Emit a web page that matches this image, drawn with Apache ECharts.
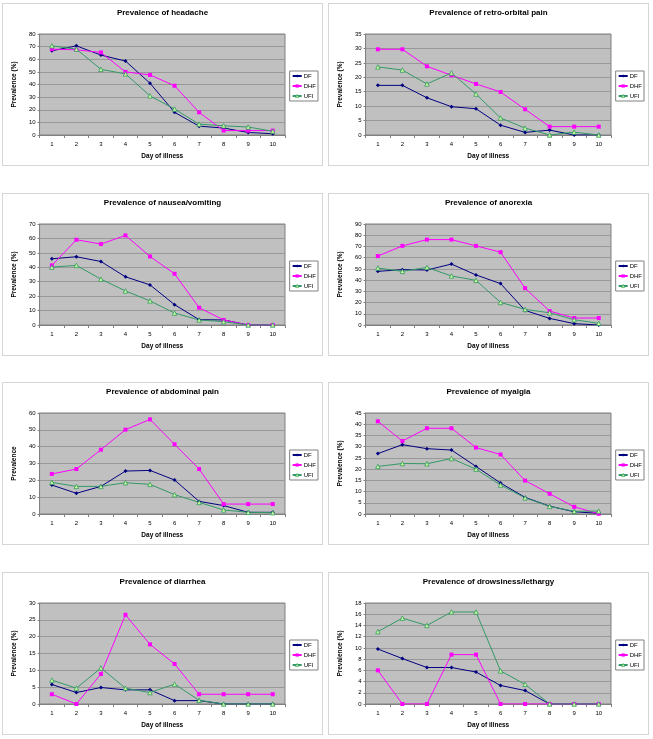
<!DOCTYPE html>
<html><head><meta charset="utf-8">
<script src="https://cdn.jsdelivr.net/npm/echarts@6/dist/echarts.min.js"></script>
<style>
body{margin:0;background:#fff;width:653px;height:739px;position:relative;overflow:hidden}
.p{position:absolute;width:321px;height:163px;box-sizing:border-box;border:1px solid #d6d6d6;background:#fff}
</style></head><body>
<div id="c0" class="p" style="left:2px;top:3px"></div>
<div id="c1" class="p" style="left:328px;top:3px"></div>
<div id="c2" class="p" style="left:2px;top:193px"></div>
<div id="c3" class="p" style="left:328px;top:193px"></div>
<div id="c4" class="p" style="left:2px;top:382px"></div>
<div id="c5" class="p" style="left:328px;top:382px"></div>
<div id="c6" class="p" style="left:2px;top:572px"></div>
<div id="c7" class="p" style="left:328px;top:572px"></div>
<script>
const days = ['1','2','3','4','5','6','7','8','9','10'];
const seriesNames = ['DF','DHF','UFI'];

const headacheDF  = [66.7,70.6,63.3,58.6,41,18,7,5.5,2,1];
const headacheDHF = [68,67.5,65.4,50,47.6,39,18,3.5,3.5,3.5];
const headacheUFI = [70.6,68,52,48.4,31,20.6,8.6,7.3,6.3,3];

const retroDF  = [17.2,17.2,12.9,9.8,9.1,3.4,0.9,1.7,0,0];
const retroDHF = [29.7,29.7,23.8,20.7,17.7,14.9,8.9,2.9,2.9,2.9];
const retroUFI = [23.6,22.5,17.7,21.5,14.2,5.9,2.4,0,1,0];

const nauseaDF  = [45.9,47.3,44,33.4,27.8,14.1,3.7,3.5,0,0];
const nauseaDHF = [41.3,59.1,56.1,62.1,47.5,35.5,12,3.5,0,0];
const nauseaUFI = [40.1,41.3,31.8,23.6,16.7,8.3,3.5,2.3,0,0];

const anorexiaDF  = [47.8,49.3,49,54.3,44.6,36.9,13,5.9,1.2,0];
const anorexiaDHF = [61.4,70.5,76.1,76.1,70.5,64.9,32.8,12.4,6.2,6.2];
const anorexiaUFI = [50.8,47.8,51.3,43.7,39.8,20.1,13.9,10.9,4.7,1.5];

const abdominalDF  = [17.2,12.3,16.4,25.5,25.9,20.2,7.5,5,1,1];
const abdominalDHF = [23.8,26.7,38.2,50.1,56.2,41.4,26.7,5.9,5.9,5.9];
const abdominalUFI = [18.8,16.4,16.4,18.6,17.6,11.5,6.9,2.4,1,0.8];

const myalgiaDF  = [26.9,30.9,29.1,28.5,21.2,13.8,7.4,3.5,1,0.3];
const myalgiaDHF = [41.3,32.5,38.2,38.2,29.6,26.5,14.9,9,3.2,0.1];
const myalgiaUFI = [21.2,22.5,22.4,24.7,20,12.9,7.2,3.4,1.2,1.3];

const diarrheaDF  = [5.8,3.4,4.9,4.2,4.2,1,1,0,0,0];
const diarrheaDHF = [2.9,0,8.9,26.5,17.7,11.9,2.9,2.9,2.9,2.9];
const diarrheaUFI = [7.1,4.7,10.7,4.7,3.4,5.9,1.1,0,0,0];

const drowsyDF  = [9.8,8.1,6.5,6.5,5.7,3.3,2.4,0,0,0];
const drowsyDHF = [6,0,0,8.8,8.8,0,0,0,0,0];
const drowsyUFI = [12.9,15.3,14,16.4,16.4,5.9,3.5,0,0,0];

const panels = [
  {title:'Prevalence of headache', yName:'Prevalence (%)', max:80, interval:10, data:[headacheDF,headacheDHF,headacheUFI]},
  {title:'Prevalence of retro-orbital pain', yName:'Prevalence (%)', max:35, interval:5, data:[retroDF,retroDHF,retroUFI]},
  {title:'Prevalence of nausea/vomiting', yName:'Prevalence (%)', max:70, interval:10, data:[nauseaDF,nauseaDHF,nauseaUFI]},
  {title:'Prevalence of anorexia', yName:'Prevalence (%)', max:90, interval:10, data:[anorexiaDF,anorexiaDHF,anorexiaUFI]},
  {title:'Prevalence of abdominal pain', yName:'Prevalence', max:60, interval:10, data:[abdominalDF,abdominalDHF,abdominalUFI]},
  {title:'Prevalence of myalgia', yName:'Prevalence (%)', max:45, interval:5, data:[myalgiaDF,myalgiaDHF,myalgiaUFI]},
  {title:'Prevalence of diarrhea', yName:'Prevalence (%)', max:30, interval:5, data:[diarrheaDF,diarrheaDHF,diarrheaUFI]},
  {title:'Prevalence of drowsiness/lethargy', yName:'Prevalence (%)', max:18, interval:2, data:[drowsyDF,drowsyDHF,drowsyUFI]}
];

const FONT = '"Liberation Sans", Arial, sans-serif';
const styles = [
  {symbol:'diamond', line:'#000080', fill:'#000080', border:'#000080', size:4},
  {symbol:'rect', line:'#FF00FF', fill:'#FF00FF', border:'#FF00FF', size:4},
  {symbol:'triangle', line:'#339966', fill:'#CCFF99', border:'#339966', size:4.5}
];

panels.forEach((p, i) => {
  const chart = echarts.init(document.getElementById('c' + i), null, {renderer:'canvas'});
  chart.setOption({
    animation:false,
    title:{text:p.title, left:'center', top:5, padding:0,
      textStyle:{fontFamily:FONT, fontSize:8, fontWeight:'bold', color:'#000'}},
    legend:{orient:'vertical', right:4, top:67, padding:[2,2,2,2], itemWidth:9, itemHeight:4, itemGap:4,
      borderColor:'#808080', borderWidth:1, backgroundColor:'#fff',
      textStyle:{fontFamily:FONT, fontSize:6, color:'#000', padding:[0,0,0,-3]},
      data:seriesNames.map((n, k) => ({name:n, itemStyle:{borderWidth:k === 2 ? 0.6 : 0}}))},
    grid:{left:28, top:30, width:254, height:102, show:true, backgroundColor:'#C0C0C0',
      borderColor:'#808080', borderWidth:1},
    xAxis:{type:'category', data:days, boundaryGap:true,
      name:'Day of illness', nameLocation:'middle', nameGap:18,
      nameTextStyle:{fontFamily:FONT, fontSize:6.5, fontWeight:'bold', color:'#000'},
      axisLine:{lineStyle:{color:'#808080', width:1}},
      axisTick:{show:true, alignWithLabel:false, length:3, lineStyle:{color:'#808080'}},
      axisLabel:{fontFamily:FONT, fontSize:6, color:'#000', margin:6},
      splitLine:{show:false}},
    yAxis:{type:'value', min:0, max:p.max, interval:p.interval,
      name:p.yName, nameLocation:'middle', nameGap:20,
      nameTextStyle:{fontFamily:FONT, fontSize:6.5, fontWeight:'bold', color:'#000'},
      axisLine:{show:true, lineStyle:{color:'#808080', width:1}},
      axisTick:{show:true, length:2, lineStyle:{color:'#808080'}},
      axisLabel:{fontFamily:FONT, fontSize:6, color:'#000', margin:4},
      splitLine:{show:true, lineStyle:{color:'#8E8E8E', width:0.8}}},
    series:p.data.map((d, k) => ({
      name:seriesNames[k], type:'line', data:d,
      symbol:styles[k].symbol, symbolSize:styles[k].size, showSymbol:true,
      lineStyle:{color:styles[k].line, width:1},
      itemStyle:{color:styles[k].fill, borderColor:styles[k].border, borderWidth:k === 2 ? 0.8 : 0},
      emphasis:{disabled:true}
    }))
  });
});
</script>
</body></html>
